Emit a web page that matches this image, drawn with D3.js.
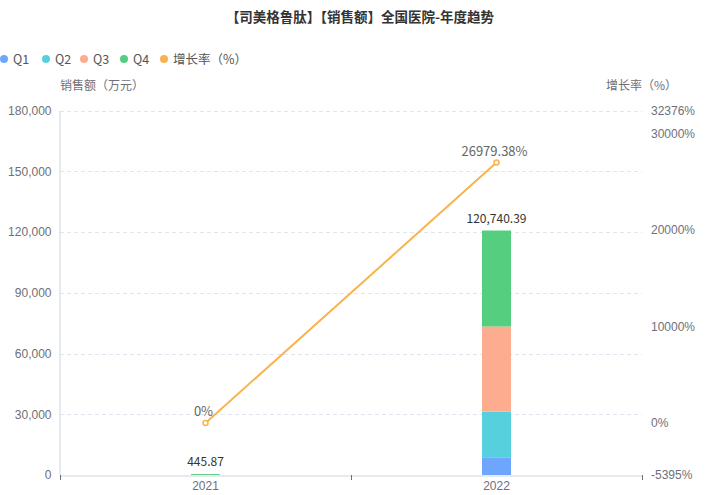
<!DOCTYPE html>
<html><head><meta charset="utf-8">
<script src="https://cdn.jsdelivr.net/npm/d3@7"></script>
<style>body{margin:0;background:#fff;}svg{display:block;font-family:"Noto Sans CJK SC","Noto Sans",sans-serif;}</style>
</head><body>
<svg id="c" width="712" height="495"></svg>
<script>
const title = "【司美格鲁肽】【销售额】全国医院-年度趋势";
const years = ["2021", "2022"];
const seriesNames = ["Q1", "Q2", "Q3", "Q4"];
const q1 = [0, 8750];
const q2 = [0, 22550];
const q3 = [0, 42030];
const q4 = [445.87, 47410.39];
const totals = [445.87, 120740.39];
const growth = [0, 26979.38];
const growthName = "增长率（%）";
const leftTicks = [0, 30000, 60000, 90000, 120000, 150000, 180000];
const rightTicks = [-5395, 0, 10000, 20000, 30000, 32376];
const colors = ["#6ea6fe", "#57d0de", "#feac8f", "#55cf7f"];
const lineColor = "#f8b34c";

const svg = d3.select("#c");
const L = 60, R = 642, T = 110.5, B = 475;
const x = d3.scaleBand().domain(years).range([L, R]);
const y = d3.scaleLinear().domain([0, 180000]).range([B, T]);
const y2 = d3.scaleLinear().domain([-5395, 32376]).range([B, T]);
const axisColor = "#6e7079";

// title
svg.append("text").attr("x", 360).attr("y", 22).attr("text-anchor", "middle")
  .attr("font-size", 13.5).attr("font-weight", "bold").attr("fill", "#333").text(title);

// legend
const legItems = seriesNames.map((n, i) => ({n, c: colors[i]})).concat([{n: "增长率（%）", c: lineColor}]);
const legX = [4, 46, 84, 124, 164];
legItems.forEach((d, i) => {
  svg.append("circle").attr("cx", legX[i]).attr("cy", 59).attr("r", 4).attr("fill", d.c);
  svg.append("text").attr("x", legX[i] + 9).attr("y", 63.5).attr("font-size", 12.5).attr("fill", "#555").text(d.n);
});

// axis names
svg.append("text").attr("x", 60).attr("y", 90).attr("font-size", 12).attr("fill", axisColor).text("销售额（万元）");
svg.append("text").attr("x", 606).attr("y", 90).attr("font-size", 12).attr("fill", axisColor).text(growthName);

// grid
svg.append("g").selectAll("line").data(leftTicks.filter(d => d > 0)).join("line")
  .attr("x1", L).attr("x2", R).attr("y1", d => Math.round(y(d)) + 0.5).attr("y2", d => Math.round(y(d)) + 0.5)
  .attr("stroke", "#e0e6f1").attr("stroke-dasharray", "4,3");

// left axis
const gl = svg.append("g").attr("transform", `translate(${L - 0.5},0)`)
  .call(d3.axisLeft(y).tickValues(leftTicks).tickSize(0).tickPadding(8).tickFormat(d3.format(",")));
gl.select(".domain").attr("stroke", "#ccd6dd");
gl.selectAll("text").attr("font-size", 12).attr("fill", axisColor).attr("font-family", "inherit");

// right axis
const gr = svg.append("g").attr("transform", `translate(${R + 1},0)`)
  .call(d3.axisRight(y2).tickValues(rightTicks).tickSize(0).tickPadding(8).tickFormat(d => d + "%"));
gr.select(".domain").remove();
gr.selectAll("text").attr("font-size", 12).attr("fill", axisColor).attr("font-family", "inherit");

// x axis
const gx = svg.append("g").attr("transform", `translate(0,${B + 0.5})`)
  .call(d3.axisBottom(x).tickSize(0).tickPadding(6));
gx.select(".domain").attr("stroke", "#ccd6dd");
gx.selectAll("text").attr("font-size", 12).attr("fill", axisColor).attr("font-family", "inherit");
svg.append("g").selectAll("line").data([L, (L + R) / 2, R]).join("line")
  .attr("x1", d => Math.round(d) + 0.5).attr("x2", d => Math.round(d) + 0.5)
  .attr("y1", B).attr("y2", B + 5).attr("stroke", "#6e7079");

// stacked bars
const rows = years.map((yr, i) => ({year: yr, Q1: q1[i], Q2: q2[i], Q3: q3[i], Q4: q4[i]}));
const stack = d3.stack().keys(seriesNames)(rows);
const bw = 29;
svg.append("g").selectAll("g").data(stack).join("g").attr("fill", (d, i) => colors[i])
  .selectAll("rect").data(d => d).join("rect")
  .attr("x", d => x(d.data.year) + x.bandwidth() / 2 - bw / 2)
  .attr("width", bw)
  .attr("y", d => y(d[1]))
  .attr("height", d => Math.max(0, y(d[0]) - y(d[1])));

// total labels
svg.append("g").selectAll("text").data(years).join("text")
  .attr("x", d => x(d) + x.bandwidth() / 2).attr("y", (d, i) => y(totals[i]) - 8)
  .attr("text-anchor", "middle").attr("font-size", 12).attr("fill", "#333")
  .text((d, i) => d3.format(",.2f")(totals[i]));

// growth line
const cx = d => x(d) + x.bandwidth() / 2;
svg.append("path").datum(years).attr("fill", "none").attr("stroke", lineColor).attr("stroke-width", 2)
  .attr("d", d3.line().x(d => cx(d)).y((d, i) => y2(growth[i])));
svg.append("g").selectAll("circle").data(years).join("circle")
  .attr("cx", d => cx(d)).attr("cy", (d, i) => y2(growth[i])).attr("r", 2.5)
  .attr("fill", "#fff").attr("stroke", lineColor).attr("stroke-width", 1.5);
svg.append("g").selectAll("text").data(years).join("text")
  .attr("x", d => cx(d) - 2).attr("y", (d, i) => y2(growth[i]) - 7)
  .attr("text-anchor", "middle").attr("font-size", 13).attr("fill", "#666")
  .text((d, i) => (growth[i] === 0 ? "0" : d3.format(".2f")(growth[i])) + "%");
</script>
</body></html>
